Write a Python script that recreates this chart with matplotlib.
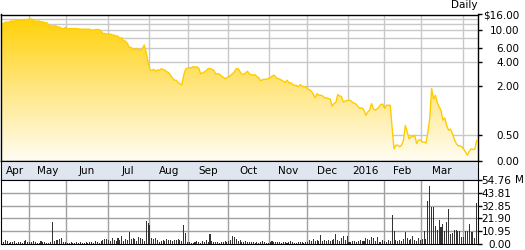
import numpy as np
import pandas as pd
import matplotlib
matplotlib.use('Agg')
import matplotlib.pyplot as plt
import matplotlib.transforms as mtransforms
from matplotlib.colors import LinearSegmentedColormap

# trading calendar (NYSE holidays in the window)
holidays = ['2015-05-25', '2015-07-03', '2015-09-07', '2015-11-26', '2015-12-25',
            '2016-01-01', '2016-01-18', '2016-02-15', '2016-03-25']
dates = pd.bdate_range('2015-04-10', '2016-04-12', freq='C', holidays=holidays)

# daily close, $ (month by month)
price_apr15 = [12.2, 12.2, 12.7, 12.7, 12.7, 13.1, 13.1, 13.1, 13.5, 13.5, 13.5, 13.3, 13.6, 13.6, 13.6]
price_may = [13.8, 13.8, 13.4, 12.9, 13.1, 13.1, 12.8, 12.8, 12.5, 12.5, 11.8, 11.3, 11.4, 11.4, 11.4,
             11.0, 11.0, 10.5, 10.5, 10.9]
price_jun = [10.5, 10.5, 10.5, 10.5, 10.5, 10.5, 10.4, 10.3, 10.3, 10.3, 10.3, 10.3, 10.3, 10.0, 10.0,
             10.2, 10.2, 10.2, 9.75, 9.15, 9.15, 9.0]
price_jul = [9.0, 9.0, 8.75, 8.75, 8.5, 8.5, 7.9, 8.1, 7.4, 7.4, 6.9, 6.1, 6.1, 5.8, 5.8, 5.9, 5.7, 5.7,
             5.9, 6.6, 5.4, 4.0]
price_aug = [3.4, 3.3, 3.4, 3.25, 3.35, 3.3, 3.45, 3.4, 3.33, 3.2, 3.11, 2.9, 2.69, 2.5, 2.5, 2.3, 2.2,
             2.13, 2.92, 3.42, 3.5]
price_sep = [3.53, 3.55, 3.61, 3.6, 3.61, 3.5, 3.05, 3.1, 3.19, 3.3, 3.47, 3.47, 3.4, 3.33, 3.0, 3.05,
             3.0, 2.86, 2.75, 2.63, 2.7]
price_oct = [2.78, 2.9, 3.05, 3.2, 3.47, 3.45, 3.2, 3.0, 3.0, 3.11, 3.25, 3.0, 2.97, 2.92, 2.95, 2.8,
             2.69, 2.44, 2.55, 2.58, 2.58, 2.63]
price_nov = [2.7, 2.83, 2.92, 2.75, 2.63, 2.6, 2.5, 2.42, 2.3, 2.5, 2.3, 2.28, 2.15, 2.08, 2.05, 1.98,
             2.13, 2.0, 1.98, 1.98]
price_dec = [1.92, 1.89, 1.84, 1.75, 1.64, 1.77, 1.72, 1.72, 1.70, 1.64, 1.64, 1.62, 1.60, 1.38, 1.46,
             1.5, 1.74, 1.70, 1.68, 1.51, 1.54, 1.55]
price_jan = [1.57, 1.55, 1.49, 1.47, 1.43, 1.35, 1.31, 1.33, 1.25, 1.10, 1.2, 1.26, 1.46, 1.3, 1.26,
             1.3, 1.36, 1.44, 1.44]
price_feb = [1.31, 1.41, 1.41, 1.41, 0.69, 0.23, 0.30, 0.30, 0.27, 0.30, 0.39, 0.79, 0.58, 0.42, 0.46,
             0.46, 0.49, 0.33, 0.40, 0.40]
price_mar = [0.36, 0.36, 0.34, 0.58, 1.0, 1.93, 1.6, 1.72, 1.5, 1.36, 1.25, 0.95, 1.02, 0.79, 0.64,
             0.67, 0.55, 0.42, 0.34, 0.29, 0.29, 0.27]
price_apr16 = [0.23, 0.17, 0.11, 0.18, 0.23, 0.22, 0.22, 0.39]

# daily volume, millions of shares
vol_apr15 = [2.1, 1.5, 3.0, 2.6, 1.2, 1.8, 1.4, 2.2, 1.0, 1.6, 1.3, 1.1, 2.4, 3.8, 1.9]
vol_may = [2.0, 1.4, 2.8, 1.6, 1.2, 1.0, 2.2, 1.5, 1.3, 0.9, 1.1, 1.4, 19.0, 2.5, 3.5, 3.8, 4.2, 5.0, 2.1, 1.6]
vol_jun = [1.2, 0.9, 1.5, 1.1, 0.8, 1.3, 1.0, 1.6, 1.2, 0.9, 1.4, 1.1, 1.8, 1.3, 1.0, 2.2, 1.5, 1.2,
           2.8, 3.5, 4.0, 4.5]
vol_jul = [3.2, 2.5, 4.8, 3.0, 2.2, 5.5, 3.8, 7.0, 2.8, 4.5, 3.0, 10.5, 4.0, 5.2, 4.6, 2.5, 6.0, 5.5,
           4.0, 2.2, 19.7, 17.7]
vol_aug = [16.0, 5.0, 4.5, 5.2, 3.8, 2.0, 2.8, 3.5, 2.2, 4.0, 3.0, 3.6, 2.4, 3.8, 3.2, 4.2, 3.0, 2.6,
           16.0, 9.0, 2.0]
vol_sep = [1.8, 1.2, 1.0, 1.5, 2.2, 1.4, 1.1, 2.6, 2.0, 3.2, 1.5, 8.5, 2.4, 1.8, 1.3, 1.6, 1.2, 1.9,
           1.4, 2.2, 1.6]
vol_oct = [2.5, 3.2, 7.0, 6.2, 4.0, 2.2, 3.0, 1.8, 1.5, 2.4, 1.9, 1.3, 1.6, 2.0, 1.2, 1.5, 1.1, 1.8,
           2.6, 1.4, 1.2, 1.0]
vol_nov = [1.5, 2.2, 1.8, 1.3, 1.6, 2.0, 1.2, 1.4, 1.9, 1.1, 1.5, 2.3, 1.7, 1.2, 1.0, 1.4, 1.8, 2.1, 0.9, 1.3]
vol_dec = [1.8, 3.0, 2.2, 4.0, 2.6, 3.4, 2.8, 7.7, 2.2, 3.0, 2.4, 3.6, 2.5, 3.2, 4.2, 8.5, 3.0, 2.6,
           5.5, 6.5, 3.5, 7.0]
vol_jan = [2.0, 1.6, 2.2, 2.5, 1.8, 2.4, 3.0, 2.2, 2.6, 5.0, 4.2, 3.0, 6.0, 5.5, 2.8, 6.2, 2.0, 1.5, 3.0]
vol_feb = [2.5, 1.8, 3.6, 2.2, 25.0, 11.0, 3.0, 2.5, 3.5, 2.8, 4.2, 10.5, 5.5, 3.0, 4.0, 6.5, 3.2, 2.5,
           5.0, 3.5]
vol_mar = [4.0, 11.0, 4.5, 37.0, 50.0, 32.0, 32.0, 15.4, 12.0, 20.5, 14.8, 17.0, 11.0, 19.0, 29.7, 8.5,
           9.5, 12.0, 12.0, 11.0, 11.0, 6.0]
vol_apr16 = [6.0, 11.0, 11.0, 17.0, 10.0, 10.0, 5.0, 35.0]

price_ticks = [0, 0.5, 2, 4, 6, 10, 16]
price_labels = ['0.00', '0.50', '2.00', '4.00', '6.00', '10.00', '$16.00']
price_grid = [0.5, 2, 4, 6, 8, 10, 12, 14]
vol_ticks = [0, 10.95, 21.90, 32.85, 43.81, 54.76]
vol_labels = ['0.00', '10.95', '21.90', '32.85', '43.81', '54.76']
month_names = ['Apr', 'May', 'Jun', 'Jul', 'Aug', 'Sep', 'Oct', 'Nov', 'Dec', '2016', 'Feb', 'Mar']

price = np.array(price_apr15 + price_may + price_jun + price_jul + price_aug + price_sep + price_oct
                 + price_nov + price_dec + price_jan + price_feb + price_mar + price_apr16)
vol = np.array(vol_apr15 + vol_may + vol_jun + vol_jul + vol_aug + vol_sep + vol_oct + vol_nov
               + vol_dec + vol_jan + vol_feb + vol_mar + vol_apr16)
n = min(len(dates), len(price))
x = np.arange(n)
price = price[:n]
vol = vol[:n]

# month starts (index of first trading day)
per = dates[:n].to_period('M')
starts = [0] + [i for i in range(1, n) if per[i] != per[i - 1]]

# the chart's own compressed price scale
sv = [0, 0.5, 2, 4, 6, 8, 10, 12, 14, 16]
sp = [0, 26.3, 74.7, 98.7, 113, 122.7, 130.7, 136.7, 142.3, 146.3]
fwd = lambda v: np.interp(v, sv, sp)
inv = lambda p: np.interp(p, sp, sv)

plt.rcParams['font.family'] = ['DejaVu Sans']
FS = 7.5
W, H = 525, 250
def box(l, t, r, b):
    return [l / W, 1 - b / H, (r - l) / W, (b - t) / H]

fig = plt.figure(figsize=(W / 100, H / 100), dpi=100)
ax = fig.add_axes(box(1, 14.5, 478, 161))
band = fig.add_axes(box(1, 161, 478, 180))
vax = fig.add_axes(box(1, 180, 478, 244))

xlim = (-0.3, n - 0.3)

# price panel
ax.set_yscale('function', functions=(fwd, inv))
for g in price_grid:
    ax.axhline(g, color='#c8c8c8', lw=1, zorder=0)
for s in starts[1:]:
    ax.axvline(s - 0.5, color='#c8c8c8', lw=1, zorder=0)
poly = ax.fill_between(x, 0, price, facecolor='none', edgecolor='none')
cmap = LinearSegmentedColormap.from_list('gold', ['#fffdf3', '#ffe680', '#ffd000'])
grad = np.linspace(0, 1, 256).reshape(-1, 1)
im = ax.imshow(grad, cmap=cmap, extent=[0, 1, 0, 1], transform=ax.transAxes,
               aspect='auto', origin='lower', zorder=1)
im.set_clip_path(poly.get_paths()[0], transform=poly.get_transform())
ax.plot(x, price, color='#ffcc00', lw=1.0, zorder=2)
ax.set_xlim(*xlim)
ax.set_ylim(0, 16)
ax.yaxis.tick_right()
ax.set_yticks(price_ticks)
ax.set_yticklabels(price_labels, ha='right')
ax.yaxis.set_minor_locator(plt.NullLocator())
ax.tick_params(axis='y', length=3, width=1, color='black', labelsize=FS, pad=27)
ax.set_xticks([])
for sp_ in ax.spines.values():
    sp_.set_linewidth(1)
ax.text(1.0, 1.03, 'Daily', transform=ax.transAxes, ha='right', va='bottom', fontsize=FS)

# month band
band.set_facecolor('#e0e6f0')
band.set_xlim(*xlim)
band.set_ylim(0, 1)
band.set_xticks([])
band.set_yticks([])
edges = [s - 0.5 for s in starts[1:]]
lefts = [xlim[0]] + edges[:-1]
for name, l, r in zip(month_names, lefts, edges):
    band.text((l + r) / 2, 0.5, name, ha='center', va='center', fontsize=FS)

# volume panel
for g in vol_ticks[1:-1]:
    vax.axhline(g, color='#a0a0a0', lw=1, zorder=0)
for s in starts[1:]:
    vax.axvline(s - 0.5, color='#a0a0a0', lw=1, zorder=0)
vax.bar(x, vol, width=0.55, color='#333333', zorder=2)
vax.set_xlim(*xlim)
vax.set_ylim(0, 54.76)
vax.yaxis.tick_right()
vax.set_yticks(vol_ticks)
vax.set_yticklabels(vol_labels, ha='right')
vax.tick_params(axis='y', length=3, width=1, color='black', labelsize=FS, pad=21)
vax.set_xticks([])
trans = mtransforms.blended_transform_factory(fig.transFigure, vax.transData)
vax.text(514.5 / W, 54.76, 'M', transform=trans, ha='left', va='center', fontsize=FS)

fig.savefig('out.png', dpi=100)
